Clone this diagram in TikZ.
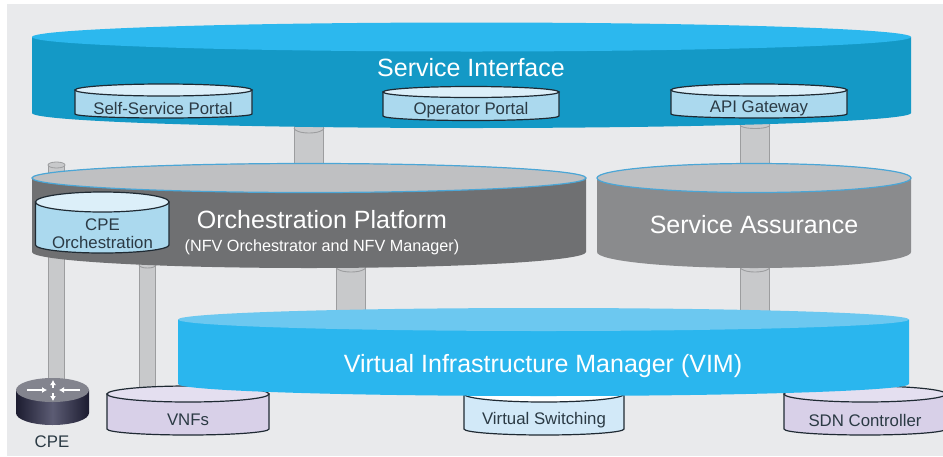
\documentclass[tikz,border=0pt]{standalone}
\usepackage{fontspec}
\usetikzlibrary{arrows.meta}
\setmainfont{Liberation Sans}
\definecolor{bgc}{HTML}{E9EAEC}
\definecolor{siBody}{HTML}{1499C6}
\definecolor{siTop}{HTML}{2CB8EE}
\definecolor{orBody}{HTML}{6F7072}
\definecolor{saBody}{HTML}{8A8B8D}
\definecolor{grTop}{HTML}{BFC0C2}
\definecolor{grRim}{HTML}{4BA6D6}
\definecolor{vimBody}{HTML}{2AB6EE}
\definecolor{vimTop}{HTML}{6CC8F0}
\definecolor{pBody}{HTML}{ABD9EE}
\definecolor{pTop}{HTML}{DCEFF9}
\definecolor{vBody}{HTML}{D8D0E8}
\definecolor{vTop}{HTML}{E4DFF0}
\definecolor{swBody}{HTML}{D2E9F8}
\definecolor{ink}{HTML}{2B3A44}
\definecolor{pipeFill}{HTML}{C8C9CB}
\definecolor{pipeEdge}{HTML}{9C9D9F}
\definecolor{rimDark}{HTML}{1F2A33}
\definecolor{rtDark}{HTML}{1C1C30}
\definecolor{rtMid}{HTML}{5C5C74}
\definecolor{rtTop}{HTML}{83848E}
\tikzset{
  x=1pt,y=1pt,
  big/.style={text=white,font=\fontsize{25}{28}\selectfont,inner sep=0pt},
  sub/.style={text=white,font=\fontsize{16.2}{18}\selectfont,inner sep=0pt},
  small/.style={text=ink,font=\fontsize{16.8}{18.5}\selectfont,inner sep=0pt},
  pipeOuter/.style={draw=pipeEdge,line width=#1},
  pipeInner/.style={draw=pipeFill,line width=#1},
  smallrim/.style={draw=rimDark,line width=1.2pt},
  greyrim/.style={draw=grRim,line width=1.2pt},
}
% xl xr yc ry yb bulge body top style
\newcommand{\cyl}[9]{%
  \pgfmathsetmacro{\crx}{(#2-#1)/2}%
  \pgfmathsetmacro{\ccx}{(#2+#1)/2}%
  \path[fill=#7,#9] (#1,-#3) -- (#1,-#5) arc[start angle=180,end angle=360,x radius=\crx pt,y radius=#6 pt] -- (#2,-#3) -- cycle;%
  \cyltop{#8}{#9}{\ccx}{#3}{\crx}{#4}}
\newcommand{\cyltop}[6]{\path[fill=#1,#2] (#3,-#4) ellipse[x radius=#5 pt,y radius=#6 pt];}
% from to width
\newcommand{\pipe}[3]{%
  \pgfmathsetmacro{\pin}{#3-2}%
  \path[pipeOuter=#3 pt] (#1) -- (#2);
  \path[pipeInner=\pin pt] (#1) -- (#2);}
\begin{document}
\begin{tikzpicture}
\useasboundingbox (0,0) rectangle (943,-456);
\clip (0,0) rectangle (943,-456);
\fill[white] (0,0) rectangle (943,-456);
\fill[bgc] (7,-4) rectangle (943,-456);
% pipe ends
\coordinate (p1a) at (309,-120); \coordinate (p1b) at (309,-170);
\coordinate (p2a) at (755,-120); \coordinate (p2b) at (755,-170);
\coordinate (p3a) at (351,-260); \coordinate (p3b) at (351,-315);
\coordinate (p4a) at (755,-260); \coordinate (p4b) at (755,-315);
\coordinate (p5a) at (56.5,-165); \coordinate (p5b) at (56.5,-385);
\coordinate (p6a) at (147.5,-260); \coordinate (p6b) at (147.5,-395);
\pipe{p1a}{p1b}{30}
\pipe{p2a}{p2b}{30}
\pipe{p3a}{p3b}{30}
\pipe{p4a}{p4b}{30}
\pipe{p5a}{p5b}{17}
\pipe{p6a}{p6b}{17}
% pipe cap ellipse of the thin CPE pipe
\path[fill=pipeFill,draw=pipeEdge,line width=.8pt] (56.5,-165) ellipse[x radius=8.5pt,y radius=3pt];
% cap arcs under the platforms
\draw[pipeEdge,line width=.9pt] (294,-128) arc[start angle=180,end angle=360,x radius=15pt,y radius=5pt];
\draw[pipeEdge,line width=.9pt] (740,-125) arc[start angle=180,end angle=360,x radius=15pt,y radius=3.5pt];
\draw[pipeEdge,line width=.9pt] (336,-267) arc[start angle=180,end angle=360,x radius=15pt,y radius=5pt];
\draw[pipeEdge,line width=.9pt] (740,-267) arc[start angle=180,end angle=360,x radius=15pt,y radius=5pt];
\draw[pipeEdge,line width=.9pt] (139,-265) arc[start angle=180,end angle=360,x radius=8.5pt,y radius=3pt];
% lower cylinders
\cyl{107}{269}{394}{8}{429}{6}{vBody}{vTop}{smallrim}
\cyl{464}{624}{394}{8}{429}{6}{swBody}{white}{smallrim}
\cyl{784}{946}{394}{8}{429}{6}{vBody}{vTop}{smallrim}
% router
\path[left color=rtDark,right color=rtDark,middle color=rtMid] (16,-390) -- (16,-413) arc[start angle=180,end angle=360,x radius=36.5pt,y radius=12pt] -- (89,-390) -- cycle;
\path[fill=rtTop] (52.5,-390) ellipse[x radius=36.5pt,y radius=12pt];
\begin{scope}[white,line width=1.4pt,-{Latex[length=5pt,width=6pt]}]
\draw (53,-388) -- (53,-380);
\draw (53,-393) -- (53,-401);
\draw (27,-390) -- (47,-390);
\draw (80,-390) -- (59,-390);
\end{scope}
% VIM
\cyl{178}{909}{319.5}{11.5}{384}{12}{vimBody}{vimTop}{}
% orchestration and assurance
\cyl{32}{586}{178}{14.5}{252}{16}{orBody}{orBody}{}
\path[fill=grTop,greyrim] (309,-178) ellipse[x radius=277pt,y radius=14.5pt];
\cyl{597}{911}{178}{14.5}{252}{16}{saBody}{saBody}{}
\path[fill=grTop,greyrim] (754,-178) ellipse[x radius=157pt,y radius=14.5pt];
% service interface
\cyl{32}{911}{37}{14.5}{113}{15}{siBody}{siTop}{}
% inner cylinders
\cyl{75}{252}{90}{6}{114}{4}{pBody}{pTop}{smallrim}
\cyl{383}{559}{92}{5.5}{116}{4.5}{pBody}{pTop}{smallrim}
\cyl{671}{847}{90}{6}{114}{4}{pBody}{pTop}{smallrim}
\cyl{35.5}{169}{202}{10}{245}{8}{pBody}{pTop}{smallrim}
% labels
\node[big] (si) at (471,-68) {Service Interface};
\node[big] (op) at (322,-220) {Orchestration Platform};
\node[sub] (nfv) at (322,-247) {(NFV Orchestrator and NFV Manager)};
\node[big] (sa) at (754,-225) {Service Assurance};
\node[big] (vim) at (543,-366) {Virtual Infrastructure Manager (VIM)};
\node[small] (ssp) at (163,-108) {Self-Service Portal};
\node[small] (opp) at (471,-110.5) {Operator Portal};
\node[small] (api) at (759,-108) {API Gateway};
\node[small,align=center] (cpeo) at (102.5,-233.5) {CPE\\Orchestration};
\node[small] (vnf) at (188,-420) {VNFs};
\node[small] (vs) at (544,-420) {Virtual Switching};
\node[small] (sdn) at (865,-420) {SDN Controller};
\node[small] (cpe) at (52,-442) {CPE};
\end{tikzpicture}
\end{document}
